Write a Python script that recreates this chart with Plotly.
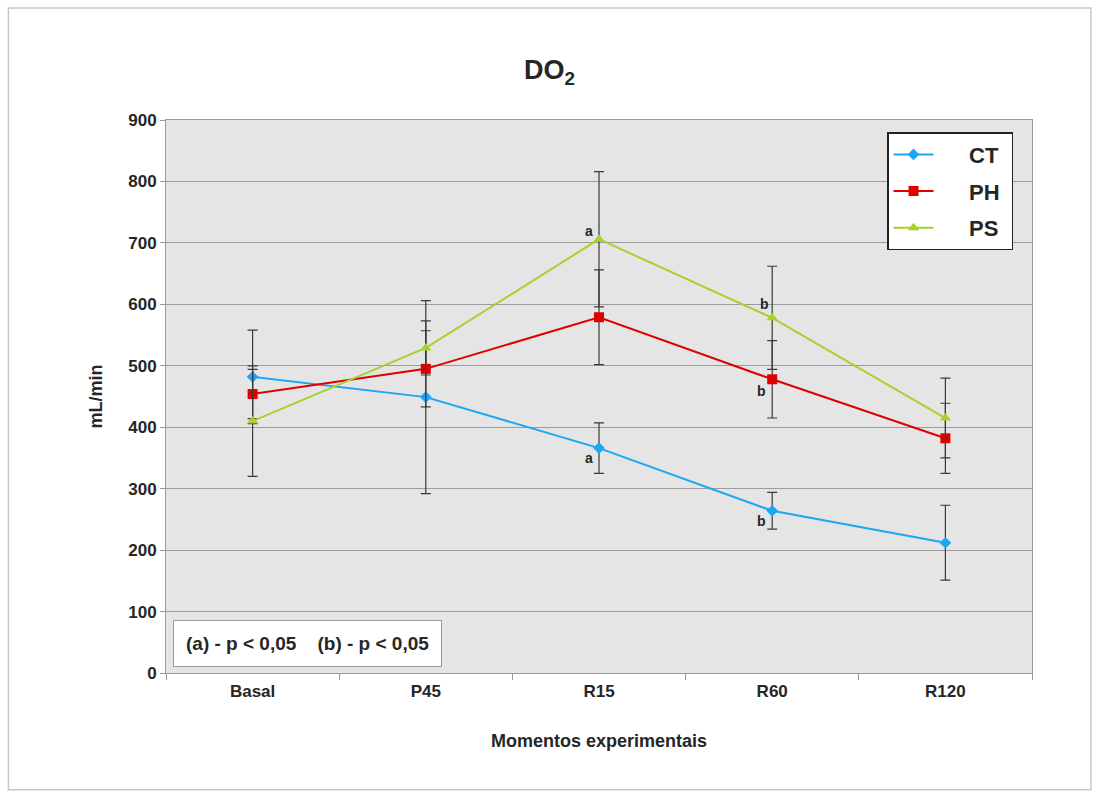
import plotly.graph_objects as go

categories = ["Basal", "P45", "R15", "R60", "R120"]

ct_values = [482, 449, 366, 264, 212]
ct_err = [76, 157, 41, 30, 61]
ph_values = [454, 495, 579, 478, 382]
ph_err = [40, 62, 77, 63, 57]
ps_values = [410, 529, 706, 578, 415]
ps_err = [90, 44, 110, 84, 65]

y_ticks = [0, 100, 200, 300, 400, 500, 600, 700, 800, 900]

# significance letters: (category, value, letter, x shift, y shift)
sig_labels = [
    ("R15", 706, "a", -10, 8),
    ("R15", 366, "a", -10, -10),
    ("R60", 578, "b", -8, 14),
    ("R60", 478, "b", -11, -12),
    ("R60", 264, "b", -11, -10),
]

FONT = "Liberation Sans, Arial, sans-serif"
TXT = "#262626"
PAD = "&nbsp;" * 5

series = [
    ("CT", ct_values, ct_err, "#1ea6f4", "diamond", 9),
    ("PH", ph_values, ph_err, "#e00000", "square", 10),
    ("PS", ps_values, ps_err, "#a7d12b", "triangle-up", 10),
]

fig = go.Figure()
for i, (name, vals, err, col, sym, size) in enumerate(series):
    fig.add_trace(go.Scatter(
        x=categories, y=vals, name=PAD + name + "&nbsp;", mode="lines+markers",
        legendgroup=name,
        line=dict(color=col, width=2),
        marker=dict(color=col, symbol=sym, size=size),
        error_y=dict(type="data", array=err, visible=True, color="#3a3a3a",
                     thickness=1.2, width=5),
    ))

for cat, val, letter, dx, dy in sig_labels:
    fig.add_annotation(x=cat, y=val, text=letter, showarrow=False,
                       xshift=dx, yshift=dy,
                       font=dict(family=FONT, size=14, color=TXT, weight="bold"))

fig.add_annotation(xref="paper", yref="paper", x=0.008, y=0.011,
                   xanchor="left", yanchor="bottom",
                   text="(a) - p &lt; 0,05&nbsp;&nbsp;&nbsp;&nbsp;(b) - p &lt; 0,05",
                   showarrow=False, bgcolor="white", bordercolor="#9a9a9a",
                   borderwidth=1, borderpad=12,
                   font=dict(family=FONT, size=19, color=TXT, weight="bold"))

# outer chart frame
fig.add_shape(type="rect", xref="paper", yref="paper",
              x0=-0.182, x1=1.068, y0=-0.211, y1=1.2025,
              line=dict(color="#c8c8c8", width=1.5), layer="below")

fig.update_layout(
    width=1099, height=796,
    margin=dict(l=166, r=67, t=120, b=123),
    paper_bgcolor="white", plot_bgcolor="#e5e5e5",
    font=dict(family=FONT, color=TXT),
    title=dict(text="DO<sub>2</sub>", x=0.5, xanchor="center", y=0.912, yanchor="middle",
               font=dict(family=FONT, size=27, color=TXT, weight="bold")),
    showlegend=True,
    legend=dict(x=0.8326, y=0.978, xanchor="left", yanchor="top",
                bgcolor="white", bordercolor="#222", borderwidth=1.5,
                font=dict(family=FONT, size=22, color=TXT, weight="bold"),
                tracegroupgap=5, itemwidth=40),
    xaxis=dict(type="category", range=[-0.5, 4.5], showgrid=False,
               ticks="outside", tickson="boundaries", ticklen=6, tickcolor="#9a9a9a",
               showline=True, linecolor="#9a9a9a", linewidth=1, mirror=True,
               ticklabelstandoff=3,
               tickfont=dict(family=FONT, size=17, color=TXT, weight="bold"),
               title=dict(text="Momentos experimentais", standoff=33,
                          font=dict(family=FONT, size=18, color=TXT, weight="bold"))),
    yaxis=dict(range=[0, 900], tickvals=y_ticks, showgrid=True, gridcolor="#9c9c9c",
               gridwidth=1, ticks="outside", ticklen=5, tickcolor="#9a9a9a",
               showline=True, linecolor="#9a9a9a", linewidth=1, mirror=True,
               zeroline=False,
               tickfont=dict(family=FONT, size=17, color=TXT, weight="bold"),
               title=dict(text="mL/min", standoff=20,
                          font=dict(family=FONT, size=18, color=TXT, weight="bold"))),
)

fig.write_html("out.html")
